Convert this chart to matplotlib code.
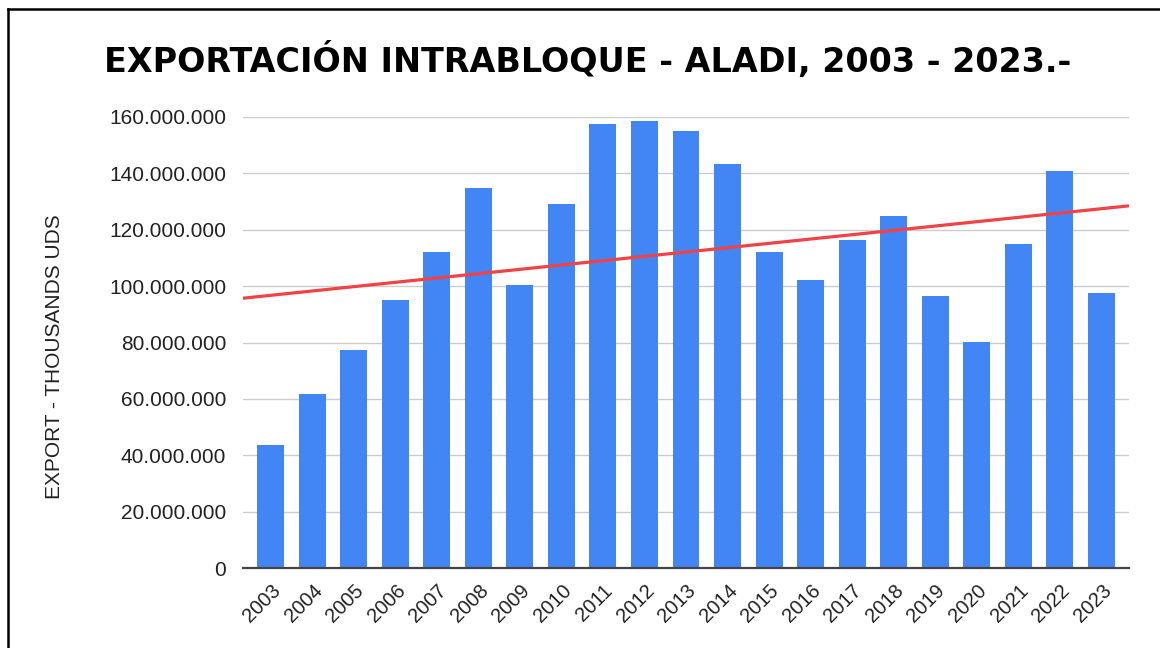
import matplotlib
matplotlib.use("Agg")
import matplotlib.pyplot as plt
import numpy as np
from matplotlib.lines import Line2D
from matplotlib.ticker import FuncFormatter
from matplotlib.transforms import ScaledTranslation

years = ["2003", "2004", "2005", "2006", "2007", "2008", "2009", "2010", "2011", "2012",
         "2013", "2014", "2015", "2016", "2017", "2018", "2019", "2020", "2021", "2022", "2023"]
exports = [43.6e6, 61.7e6, 77.3e6, 95.1e6, 112.1e6, 134.8e6, 100.4e6, 129.1e6, 157.5e6, 158.6e6,
           155.0e6, 143.3e6, 112.1e6, 102.2e6, 116.4e6, 124.9e6, 96.5e6, 80.2e6, 114.9e6, 140.8e6, 97.6e6]
yticks = [0, 20e6, 40e6, 60e6, 80e6, 100e6, 120e6, 140e6, 160e6]

plt.rcParams['font.family'] = ['Liberation Sans', 'DejaVu Sans']

fig = plt.figure(figsize=(11.6, 6.48), dpi=100)
ax = fig.add_axes([243/1160, 1-568/648, (1129-243)/1160, (568-117)/648])

x = np.arange(len(years))
ax.bar(x, exports, width=0.65, color="#4285F4", zorder=2)

xmin, xmax = -0.67, len(years) - 1 + 0.67
# linear trendline
coef = np.polyfit(x, exports, 1)
xt = np.array([xmin, xmax])
ax.plot(xt, np.polyval(coef, xt), color="#F04347", lw=2.3, zorder=3, solid_capstyle='butt')

ax.set_xlim(xmin, xmax)
ax.set_ylim(0, 160e6)
ax.set_yticks(yticks)
ax.yaxis.set_major_formatter(FuncFormatter(lambda v, p: f"{int(v):,}".replace(",", ".")))
ax.set_xticks(x)
ax.set_xticklabels(years, rotation=45, ha="right", va="center", rotation_mode="anchor")
ax.tick_params(axis='y', length=0, labelsize=15, colors="#222222", pad=12)
ax.tick_params(axis='x', length=0, labelsize=14.5, colors="#222222", pad=14)
off = ScaledTranslation(0.07, 0, fig.dpi_scale_trans)
for lbl in ax.get_xticklabels():
    lbl.set_transform(lbl.get_transform() + off)
ax.grid(axis='y', color="#CCCCCC", lw=1, zorder=0)
ax.set_axisbelow(True)
for s in ["top", "right", "left"]:
    ax.spines[s].set_visible(False)
ax.spines["bottom"].set_color("#444444")
ax.spines["bottom"].set_linewidth(1.6)
ax.spines["bottom"].set_zorder(4)

ax.set_ylabel("EXPORT - THOUSANDS UDS", fontsize=15, color="#222222")
ax.yaxis.set_label_coords((64-243)/886, (568-357)/451)

fig.text(0.5065, 1-72/648, "EXPORTACIÓN INTRABLOQUE - ALADI, 2003 - 2023.-",
         ha="center", va="baseline", fontsize=24, fontweight="bold", color="black",
         family="DejaVu Sans")

# outer frame (cropped screenshot)
fig.add_artist(Line2D([7.5/1160, 7.5/1160], [0, 1-9/648], color="black", lw=1.8, transform=fig.transFigure))
fig.add_artist(Line2D([7.5/1160, 1], [1-9/648, 1-9/648], color="black", lw=1.8, transform=fig.transFigure))

fig.savefig("out.png", dpi=100, facecolor="white")
